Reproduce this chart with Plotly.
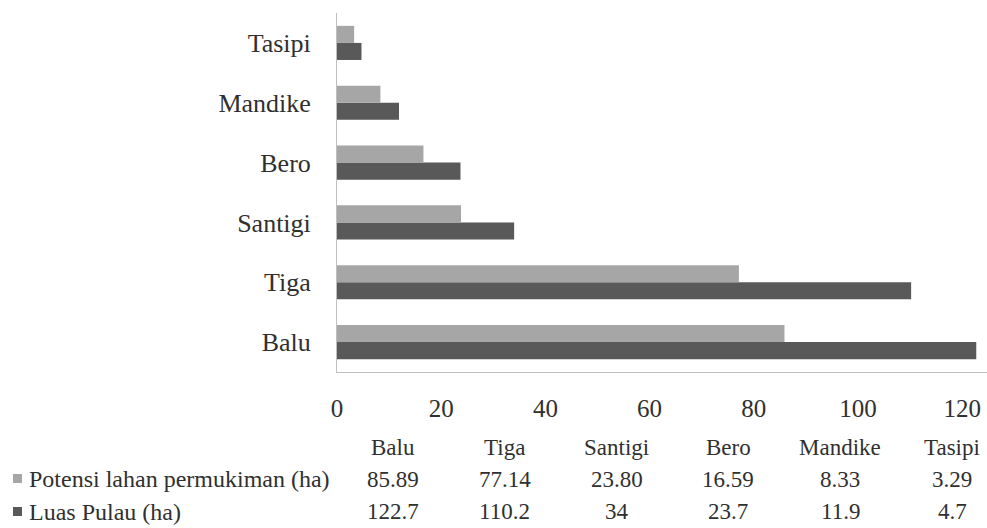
import plotly.graph_objects as go

# Island data (ha)
islands = ["Balu", "Tiga", "Santigi", "Bero", "Mandike", "Tasipi"]
potensi = [85.89, 77.14, 23.80, 16.59, 8.33, 3.29]
luas = [122.7, 110.2, 34, 23.7, 11.9, 4.7]
series_names = ["Potensi lahan permukiman (ha)", "Luas Pulau (ha)"]
x_ticks = [0, 20, 40, 60, 80, 100, 120]

LIGHT = "#a6a6a6"
DARK = "#595959"
TEXT = "#303030"
FONT = "'Liberation Serif', 'Times New Roman', Times, serif"

W, H = 987, 528
L, R, T, B = 337, 0, 13, 156
PW, PH = W - L - R, H - T - B


def px(x):
    return (x - L) / PW


def py(y):
    return (H - B - y) / PH


fig = go.Figure()
# dark bar sits below the light one inside each group
fig.add_trace(go.Bar(y=islands, x=luas, orientation="h", name=series_names[1],
                     marker=dict(color=DARK, line=dict(width=0))))
fig.add_trace(go.Bar(y=islands, x=potensi, orientation="h", name=series_names[0],
                     marker=dict(color=LIGHT, line=dict(width=0))))

annotations = []
# data table under the axis
col_x = [393 + 111.8 * i for i in range(len(islands))]
rows = [
    (448, islands),
    (479, [f"{v:.2f}" for v in potensi]),
    (512, [f"{v:g}" for v in luas]),
]
for row_y, cells in rows:
    for cx, txt in zip(col_x, cells):
        annotations.append(dict(x=px(cx), y=py(row_y), xref="paper", yref="paper",
                                text=txt, showarrow=False, xanchor="center", yanchor="middle",
                                font=dict(family=FONT, size=23, color=TEXT)))

shapes = []
for (row_y, name, col) in [(479, series_names[0], LIGHT), (512, series_names[1], DARK)]:
    annotations.append(dict(x=px(27), y=py(row_y), xref="paper", yref="paper",
                            text=name, showarrow=False, xanchor="left", yanchor="middle",
                            font=dict(family=FONT, size=24, color=TEXT)))
    shapes.append(dict(type="rect", xref="paper", yref="paper",
                       x0=px(13), x1=px(22), y0=py(row_y + 4), y1=py(row_y - 5),
                       fillcolor=col, line=dict(width=0)))

fig.update_layout(
    width=W, height=H,
    margin=dict(l=L, r=R, t=T, b=B, pad=0),
    paper_bgcolor="white", plot_bgcolor="white",
    barmode="group", bargap=0.43, bargroupgap=0,
    showlegend=False,
    font=dict(family=FONT, color=TEXT),
    annotations=annotations,
    shapes=shapes,
    xaxis=dict(range=[0, PW / 5.21], tickvals=x_ticks, showgrid=False, zeroline=False,
               showline=True, linecolor="#bfbfbf", linewidth=1, ticks="",
               tickfont=dict(family=FONT, size=25, color=TEXT), ticklabelstandoff=14),
    yaxis=dict(categoryorder="array", categoryarray=islands, showgrid=False,
               showline=True, linecolor="#bfbfbf", linewidth=1, ticks="",
               tickfont=dict(family=FONT, size=26, color=TEXT), ticklabelstandoff=20),
)

fig.write_html("out.html")
